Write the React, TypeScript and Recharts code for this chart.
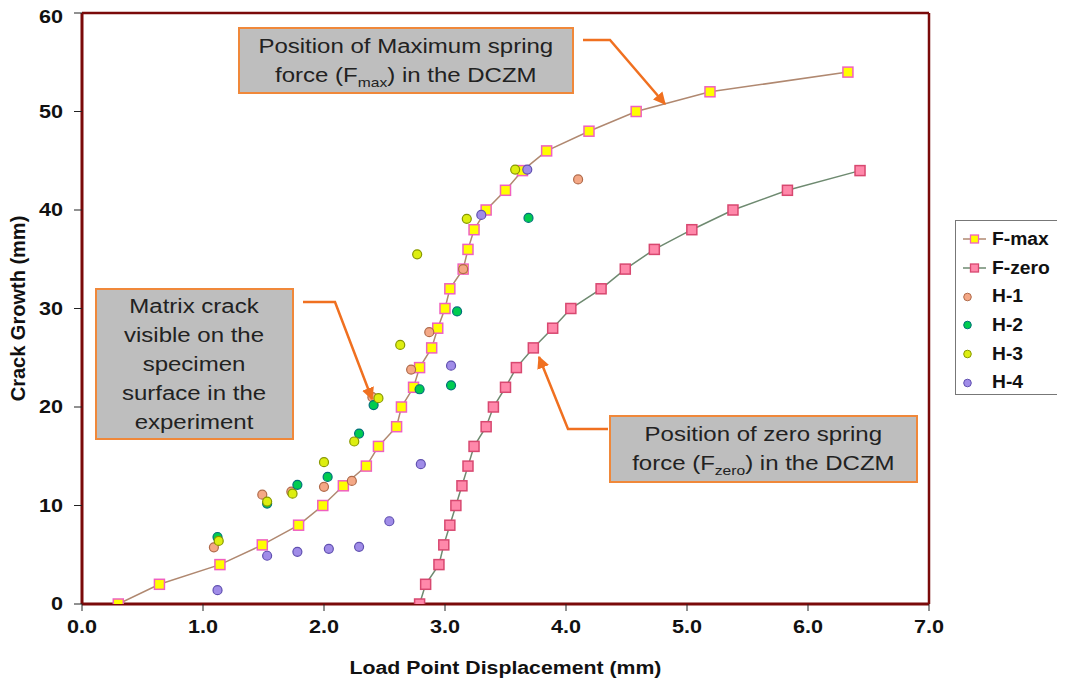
import React from 'react';
import { ScatterChart, Scatter, XAxis, YAxis, ReferenceLine, Legend } from 'recharts';

// ---- Data ----
const fmaxX = [0.30, 0.64, 1.14, 1.49, 1.79, 1.99, 2.16, 2.35, 2.45, 2.60, 2.64, 2.74, 2.79, 2.89, 2.94, 3.00, 3.04, 3.15, 3.19, 3.24, 3.34, 3.50, 3.64, 3.84, 4.19, 4.58, 5.19, 6.33];
const fmaxY = [0, 2, 4, 6, 8, 10, 12, 14, 16, 18, 20, 22, 24, 26, 28, 30, 32, 34, 36, 38, 40, 42, 44, 46, 48, 50, 52, 54];
const fzeroX = [2.79, 2.84, 2.95, 2.99, 3.04, 3.09, 3.14, 3.19, 3.24, 3.34, 3.40, 3.50, 3.59, 3.73, 3.89, 4.04, 4.29, 4.49, 4.73, 5.04, 5.38, 5.83, 6.43];
const fzeroY = [0, 2, 4, 6, 8, 10, 12, 14, 16, 18, 20, 22, 24, 26, 28, 30, 32, 34, 36, 38, 40, 42, 44];

const h1X = [1.09, 1.49, 1.73, 2.00, 2.23, 2.40, 2.72, 2.87, 3.15, 4.10];
const h1Y = [5.75, 11.1, 11.4, 11.9, 12.5, 21.0, 23.8, 27.6, 34.0, 43.1];
const h2X = [1.12, 1.53, 1.78, 2.03, 2.29, 2.41, 2.79, 3.05, 3.10, 3.69];
const h2Y = [6.8, 10.2, 12.1, 12.9, 17.3, 20.2, 21.8, 22.2, 29.7, 39.2];
const h3X = [1.13, 1.53, 1.74, 2.00, 2.25, 2.45, 2.63, 2.77, 3.18, 3.58];
const h3Y = [6.4, 10.4, 11.2, 14.4, 16.5, 20.9, 26.3, 35.5, 39.1, 44.1];
const h4X = [1.12, 1.53, 1.78, 2.04, 2.29, 2.54, 2.80, 3.05, 3.30, 3.68];
const h4Y = [1.4, 4.9, 5.3, 5.6, 5.8, 8.4, 14.2, 24.2, 39.5, 44.1];

const xTicks = [0, 1, 2, 3, 4, 5, 6, 7];
const yTicks = [0, 10, 20, 30, 40, 50, 60];

const zip = (xs: number[], ys: number[]) => xs.map((x, i) => ({ x, y: ys[i] }));

const FONT = '"Liberation Sans", Arial, sans-serif';
const MAROON = '#7A0A0A';
const STRETCH = 1.2;

const squareShape = (fill: string, stroke: string) => (props: any) => {
  const { cx, cy } = props;
  if (cx == null || cy == null) return <g />;
  return <rect x={cx - 5} y={cy - 5} width={10} height={10} fill={fill} stroke={stroke} strokeWidth={1.5} />;
};
const circleShape = (fill: string, stroke: string) => (props: any) => {
  const { cx, cy } = props;
  if (cx == null || cy == null) return <g />;
  return <circle cx={cx} cy={cy} r={4.5} fill={fill} stroke={stroke} strokeWidth={1.2} />;
};

const series = [
  { name: 'F-max', data: zip(fmaxX, fmaxY), kind: 'sq', fill: '#FFFF00', stroke: '#F060C0', line: '#B08870' },
  { name: 'F-zero', data: zip(fzeroX, fzeroY), kind: 'sq', fill: '#FF88AA', stroke: '#D84870', line: '#6E8A70' },
  { name: 'H-1', data: zip(h1X, h1Y), kind: 'c', fill: '#F4A886', stroke: '#B06A4A' },
  { name: 'H-2', data: zip(h2X, h2Y), kind: 'c', fill: '#00CC50', stroke: '#00707A' },
  { name: 'H-3', data: zip(h3X, h3Y), kind: 'c', fill: '#DDEE10', stroke: '#889800' },
  { name: 'H-4', data: zip(h4X, h4Y), kind: 'c', fill: '#A08CE8', stroke: '#6050B0' },
];

const tickFont = { fontFamily: FONT, fontSize: 18, fontWeight: 'bold' as const, fill: '#111' };

const XTick = (props: any) => {
  const { x, y, payload } = props;
  return (
    <g transform={`translate(${x},${y})`}>
      <text transform={`scale(${STRETCH},1)`} textAnchor="middle" dy="0.71em" style={tickFont}>
        {Number(payload.value).toFixed(1)}
      </text>
    </g>
  );
};
const YTick = (props: any) => {
  const { x, y, payload } = props;
  return (
    <g transform={`translate(${x},${y})`}>
      <text transform={`scale(${STRETCH},1)`} textAnchor="end" dy="0.355em" style={tickFont}>
        {payload.value}
      </text>
    </g>
  );
};
const XLabel = (props: any) => {
  const vb = props.viewBox || {};
  const cx = vb.x + vb.width / 2;
  const y = vb.y + vb.height - 2;
  return (
    <text transform={`translate(${cx},${y}) scale(1.12,1)`} textAnchor="middle" style={{ ...tickFont, fontSize: 19 }}>
      Load Point Displacement (mm)
    </text>
  );
};

const LegendBox = () => (
  <div style={{ border: '1px solid #777', background: '#fff', width: 107, height: 175, boxSizing: 'border-box', paddingTop: 4, fontFamily: FONT }}>
    {series.map((s) => (
      <div key={s.name} style={{ display: 'flex', alignItems: 'center', height: 28.7 }}>
        <svg width={36} height={20} style={{ flex: 'none' }}>
          {s.kind === 'sq' ? (
            <g>
              <line x1={7} x2={30} y1={10} y2={10} stroke={s.line} strokeWidth={1.5} />
              <rect x={14.5} y={6} width={8} height={8} fill={s.fill} stroke={s.stroke} strokeWidth={1.3} />
            </g>
          ) : (
            <circle cx={11.5} cy={10} r={3.8} fill={s.fill} stroke={s.stroke} strokeWidth={1} />
          )}
        </svg>
        <span style={{ fontSize: 18, fontWeight: 'bold', color: '#111', display: 'inline-block', transform: 'scaleX(1.07)', transformOrigin: 'left center' }}>{s.name}</span>
      </div>
    ))}
  </div>
);

const boxStyle: React.CSSProperties = {
  position: 'absolute',
  background: '#BEBEBE',
  border: '2px solid #F0883A',
  boxSizing: 'border-box',
  fontFamily: FONT,
  fontSize: 20,
  lineHeight: '29px',
  color: '#222',
  textAlign: 'center',
  display: 'flex',
  flexDirection: 'column',
  justifyContent: 'center',
  alignItems: 'center',
};
const inner: React.CSSProperties = { transform: `scaleX(${STRETCH})`, transformOrigin: 'center center', whiteSpace: 'nowrap' };
const sub: React.CSSProperties = { fontSize: 13, verticalAlign: -5, lineHeight: 0 };

export default function App() {
  return (
    <div style={{ position: 'relative', width: 1049, height: 670 }}>
      <ScatterChart width={1049} height={670} margin={{ top: 5, right: 128, bottom: 2, left: 0 }}>
        <XAxis
          type="number"
          dataKey="x"
          domain={[0, 7]}
          ticks={xTicks}
          allowDataOverflow
          height={72}
          axisLine={{ stroke: MAROON, strokeWidth: 3 }}
          tickLine={{ stroke: '#222' }}
          tickSize={7}
          tickMargin={9}
          tick={<XTick />}
          label={<XLabel />}
        />
        <YAxis
          type="number"
          dataKey="y"
          domain={[0, 60]}
          ticks={yTicks}
          allowDataOverflow
          width={74}
          axisLine={{ stroke: MAROON, strokeWidth: 3 }}
          tickLine={{ stroke: '#222' }}
          tickSize={8}
          tickMargin={11}
          tick={<YTick />}
          label={{ value: 'Crack Growth (mm)', angle: -90, position: 'insideLeft', offset: 10, style: { textAnchor: 'middle', fontFamily: FONT, fontSize: 20, fontWeight: 'bold', fill: '#111' } }}
        />
        <ReferenceLine y={60} stroke={MAROON} strokeWidth={2.5} />
        <ReferenceLine x={7} stroke={MAROON} strokeWidth={2.5} />
        {series.map((s) => (
          <Scatter
            key={s.name}
            name={s.name}
            data={s.data}
            isAnimationActive={false}
            line={s.kind === 'sq' ? { stroke: s.line, strokeWidth: 1.5 } : false}
            lineType="joint"
            shape={s.kind === 'sq' ? squareShape(s.fill, s.stroke) : circleShape(s.fill, s.stroke)}
          />
        ))}
        <Legend
          layout="vertical"
          align="center"
          verticalAlign="middle"
          content={() => <LegendBox />}
          wrapperStyle={{ position: 'absolute', left: 947, top: 212, width: 107, height: 175 }}
        />
      </ScatterChart>

      <svg width={1049} height={670} style={{ position: 'absolute', left: 0, top: 0, pointerEvents: 'none' }}>
        <defs>
          <marker id="ah" viewBox="0 0 10 10" refX="9" refY="5" markerWidth="5" markerHeight="5" orient="auto-start-reverse">
            <path d="M0,0 L10,5 L0,10 z" fill="#F07020" />
          </marker>
        </defs>
        <polyline points="575,32 602,32 657,96" fill="none" stroke="#F07020" strokeWidth={2.5} markerEnd="url(#ah)" />
        <polyline points="295,294 327,294 364,391" fill="none" stroke="#F07020" strokeWidth={2.5} markerEnd="url(#ah)" />
        <polyline points="600,421 560,421 531,349" fill="none" stroke="#F07020" strokeWidth={2.5} markerEnd="url(#ah)" />
      </svg>

      <div style={{ ...boxStyle, left: 230, top: 19, width: 336, height: 67 }}>
        <div style={inner}>
          <div>Position of Maximum spring</div>
          <div>force (F<span style={sub}>max</span>) in the DCZM</div>
        </div>
      </div>
      <div style={{ ...boxStyle, left: 87, top: 280, width: 199, height: 152 }}>
        <div style={inner}>
          <div>Matrix crack</div>
          <div>visible on the</div>
          <div>specimen</div>
          <div>surface in the</div>
          <div>experiment</div>
        </div>
      </div>
      <div style={{ ...boxStyle, left: 601, top: 407, width: 309, height: 68 }}>
        <div style={inner}>
          <div>Position of zero spring</div>
          <div>force (F<span style={sub}>zero</span>) in the DCZM</div>
        </div>
      </div>
    </div>
  );
}
